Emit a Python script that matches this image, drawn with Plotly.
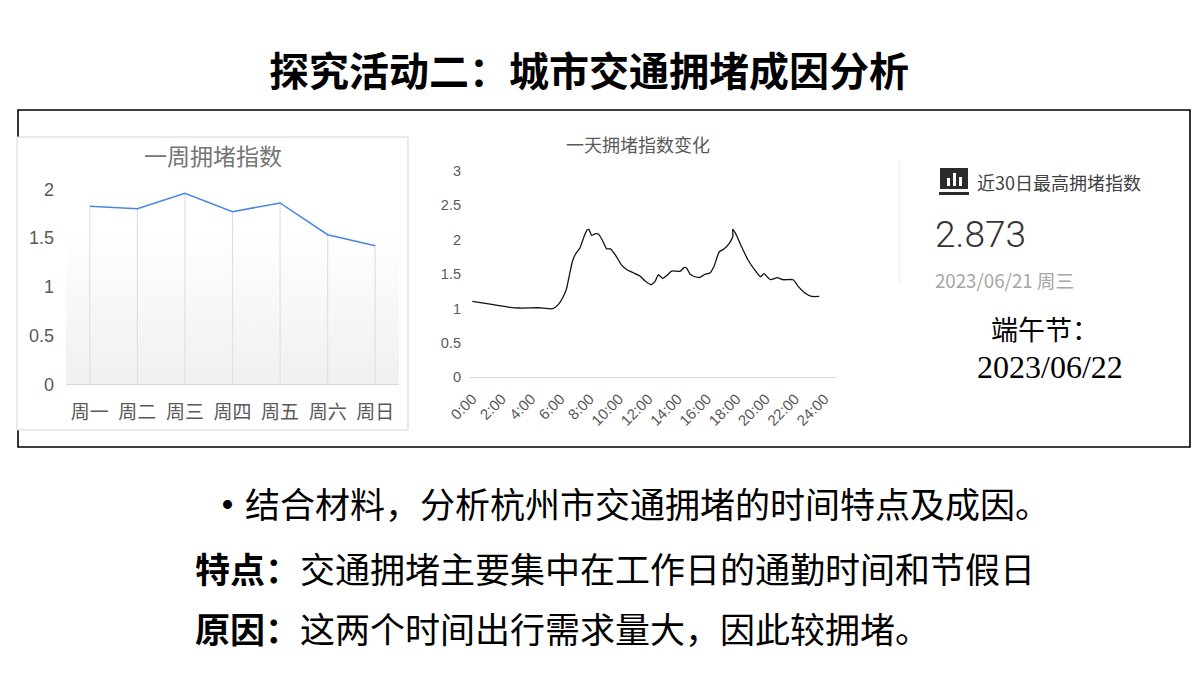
import plotly.graph_objects as go

W, H = 1200, 675
CJK = '"Noto Sans CJK SC", "Liberation Sans", sans-serif'
LAT = '"Liberation Sans", "Noto Sans CJK SC", sans-serif'
SERIF = '"Liberation Serif", "Noto Sans CJK SC", serif'

week_days = ["周一", "周二", "周三", "周四", "周五", "周六", "周日"]
week_positions = [0, 1, 2, 3, 4, 5, 6]
week_index = [1.825, 1.80, 1.96, 1.77, 1.86, 1.534, 1.42]
y_ticks_week = [0, 0.5, 1, 1.5, 2]

day_hours = [0, 1.32, 2.45, 3.25, 4.5, 5.48, 5.87, 6.2, 6.43, 6.62, 6.82, 7.0, 7.34, 7.64, 7.82, 7.95,
             8.14, 8.36, 8.59, 8.86, 9.16, 9.41, 9.73, 10.18, 10.57, 11.0, 11.43, 11.77, 12.18, 12.45,
             12.68, 12.98, 13.25, 13.59, 14.16, 14.45, 14.62, 14.84, 15.18, 15.52, 15.86, 16.2, 16.47,
             16.84, 17.16, 17.52, 17.77, 17.75, 17.95, 18.36, 18.81, 19.27, 19.66, 19.88, 20.34, 20.79,
             21.2, 21.88, 22.22, 22.68, 23.14, 23.66]
day_index = [1.103, 1.059, 1.02, 1.006, 1.01, 0.996, 1.059, 1.17, 1.291, 1.485, 1.678, 1.775, 1.881, 2.055,
             2.138, 2.148, 2.06, 2.084, 2.08, 1.993, 1.866, 1.866, 1.785, 1.63, 1.557, 1.515, 1.47, 1.402,
             1.344, 1.388, 1.489, 1.437, 1.475, 1.543, 1.538, 1.596, 1.582, 1.5, 1.46, 1.451, 1.495, 1.514,
             1.605, 1.823, 1.862, 1.945, 2.05, 2.148, 2.09, 1.895, 1.70, 1.557, 1.46, 1.504, 1.417, 1.446,
             1.417, 1.417, 1.32, 1.224, 1.174, 1.174]
day_tick_hours = list(range(0, 25, 2))
day_tick_labels = [f"{h}:00" for h in day_tick_hours]
y_ticks_day = [0, 0.5, 1, 1.5, 2, 2.5, 3]

title_text = "探究活动二：城市交通拥堵成因分析"
peak_value = "2.873"
peak_label = "近30日最高拥堵指数"
peak_date = "2023/06/21 周三"
festival_label = "端午节："
festival_date = "2023/06/22"


def px(x):
    return x / W


def py(y):
    return 1 - y / H


fig = go.Figure()

# background gradient of the weekly panel
fig.add_trace(go.Scatter(x=[-0.5, 6.5, 6.5, -0.5], y=[0, 0, 1.6, 1.6], xaxis="x", yaxis="y", mode="lines",
                         line=dict(width=0), fill="toself", hoverinfo="skip", showlegend=False,
                         fillgradient=dict(type="vertical", colorscale=[[0, "#f0f0f0"], [1, "#ffffff"]])))
fig.add_trace(go.Scatter(x=week_positions, y=week_index, xaxis="x", yaxis="y", mode="lines",
                         line=dict(color="#4a86e0", width=1.5), showlegend=False,
                         error_y=dict(type="data", symmetric=False, array=[0] * 7, arrayminus=week_index,
                                      color="#e0e0e0", thickness=1.2, width=0)))
fig.add_trace(go.Scatter(x=day_hours, y=day_index, xaxis="x2", yaxis="y2", mode="lines",
                         line=dict(color="#111111", width=1.3, shape="spline", smoothing=0.5), showlegend=False))


def rect(x0, y0, x1, y1, fill=None, line=None, lw=1):
    return dict(type="rect", xref="paper", yref="paper", x0=px(x0), x1=px(x1), y0=py(y1), y1=py(y0),
                fillcolor=fill or "rgba(0,0,0,0)",
                line=dict(color=line or "rgba(0,0,0,0)", width=lw if line else 0), layer="below")


shapes = [
    rect(18, 110, 1190, 447, line="#000000", lw=1.6),
    rect(17, 137, 408, 430, fill="#ffffff", line="#d4d4d4", lw=1),
    rect(899, 160, 900, 284, fill="#f0f0f0"),
    rect(940, 168, 968, 189, fill="#2b2b2b"),
    rect(939, 192, 969, 195, fill="#2b2b2b"),
    rect(947, 178, 950, 186, fill="#ffffff"),
    rect(953, 173, 956, 186, fill="#ffffff"),
    rect(959, 177, 962, 186, fill="#ffffff"),
]


def text(s, x, y, size, color="#000000", family=CJK, anchor="center", weight=None):
    font = dict(size=size, color=color, family=family)
    if weight:
        font["weight"] = weight
    return dict(text=s, x=px(x), y=py(y), xref="paper", yref="paper", xanchor=anchor, yanchor="middle",
                showarrow=False, font=font, align="left")


annotations = [
    text(f"<b>{title_text}</b>", 589, 69, 40),
    text("一周拥堵指数", 213, 155, 23, "#757575"),
    text("一天拥堵指数变化", 638, 144, 18, "#595959"),
    text(peak_label, 975, 182, 18, "#404040", anchor="left"),
    text(peak_value, 933, 235, 37, "#333333", 'Roboto, sans-serif', anchor="left", weight=300),
    text(peak_date, 933, 279, 18.7, "#a6a6a6", anchor="left"),
    text(festival_label, 1045, 331, 27, "#000000", SERIF),
    text(festival_date, 1050, 367, 32, "#000000", SERIF),
    text("<b>•</b>结合材料，分析杭州市交通拥堵的时间特点及成因。", 208, 502, 35, anchor="left"),
    text("<b>特点：</b>交通拥堵主要集中在工作日的通勤时间和节假日", 193, 567, 35, anchor="left"),
    text("<b>原因：</b>这两个时间出行需求量大，因此较拥堵。", 193, 627, 35, anchor="left"),
]

fig.update_layout(
    width=W, height=H, margin=dict(l=0, r=0, t=0, b=0, pad=0, autoexpand=False),
    paper_bgcolor="#ffffff", plot_bgcolor="rgba(0,0,0,0)", showlegend=False,
    shapes=shapes, annotations=annotations,
    xaxis=dict(domain=[px(66), px(399)], range=[-0.5, 6.5], anchor="y", tickvals=week_positions,
               ticktext=week_days, showgrid=False, showline=True, linecolor="#d9d9d9", linewidth=1,
               ticks="", ticklabelstandoff=11, zeroline=False,
               tickfont=dict(size=19, color="#595959", family=CJK)),
    yaxis=dict(domain=[py(384.3), py(189.3)], range=[0, 2], anchor="x", tickvals=y_ticks_week,
               showgrid=False, zeroline=False, ticks="", ticklabelstandoff=11,
               tickfont=dict(size=18, color="#595959", family=LAT)),
    xaxis2=dict(domain=[px(470), px(836)], range=[-0.16, 24.8], anchor="y2", tickvals=day_tick_hours,
                ticktext=day_tick_labels, tickangle=-45, showgrid=False, showline=True, linecolor="#d9d9d9",
                linewidth=1, ticks="", zeroline=False, ticklabelstandoff=6,
                tickfont=dict(size=15, color="#595959", family=LAT)),
    yaxis2=dict(domain=[py(377.3), py(170.7)], range=[0, 3], anchor="x2", tickvals=y_ticks_day,
                showgrid=False, zeroline=False, ticks="", ticklabelstandoff=8,
                tickfont=dict(size=14.5, color="#595959", family=LAT)),
)

fig.write_html("out.html", config={"displayModeBar": False},
               post_script="document.body.style.margin='0';document.documentElement.style.overflow='hidden';")
